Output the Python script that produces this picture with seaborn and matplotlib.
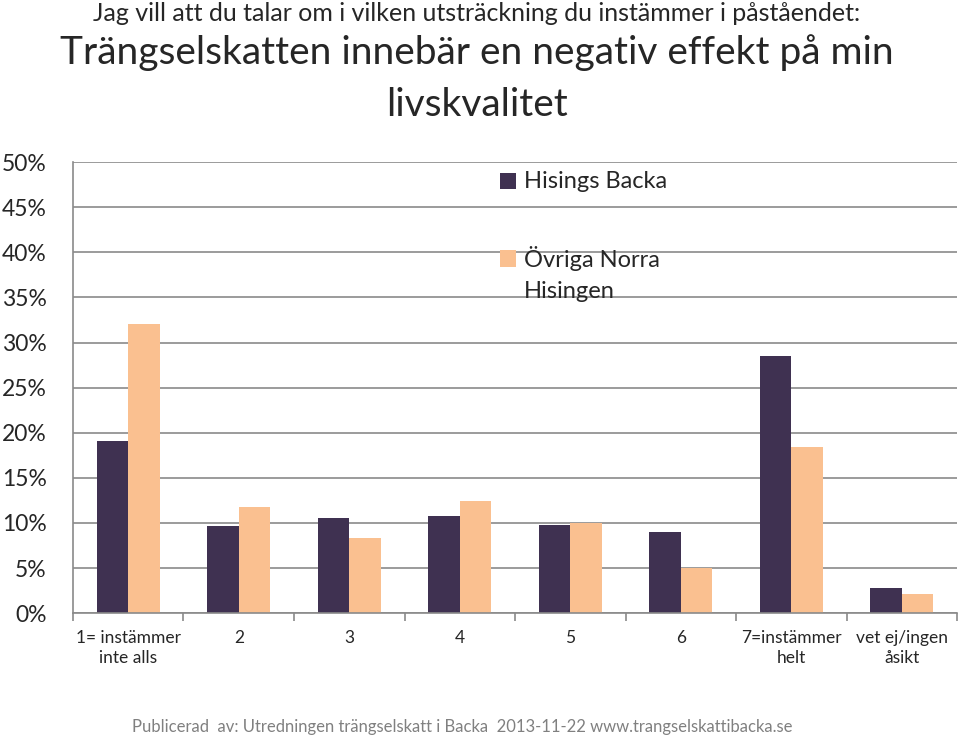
import pandas as pd
import matplotlib.pyplot as plt
import seaborn as sns
from matplotlib.patches import Rectangle
from matplotlib.ticker import MultipleLocator, PercentFormatter

# answer categories (x axis)
categories = ['1= instämmer\ninte alls', '2', '3', '4', '5', '6', '7=instämmer\nhelt', 'vet ej/ingen\nåsikt']
series_names = ['Hisings Backa', 'Övriga Norra\nHisingen']
# share of answers in percent
hisings_backa = [19.1, 9.7, 10.6, 10.8, 9.8, 9.0, 28.5, 2.8]
ovriga_norra = [32.1, 11.8, 8.3, 12.4, 10.0, 5.0, 18.4, 2.1]
colors = ['#3f3151', '#fac090']

df = pd.DataFrame({
    'kategori': categories * 2,
    'serie': [series_names[0]] * len(categories) + [series_names[1]] * len(categories),
    'andel': hisings_backa + ovriga_norra,
})

sns.set_style('white')
plt.rcParams['font.family'] = ['Lato', 'DejaVu Sans']

fig = plt.figure(figsize=(9.6, 7.37), dpi=100)
ax = fig.add_axes([0.076, 0.168, 0.921, 0.612])

sns.barplot(data=df, x='kategori', y='andel', hue='serie', palette=colors,
            width=0.57, gap=0, saturation=1, legend=False, linewidth=0, ax=ax)

ax.set_ylim(0, 50)
ax.set_xlim(-0.5, len(categories) - 0.5)
ax.yaxis.set_major_locator(MultipleLocator(5))
ax.yaxis.set_major_formatter(PercentFormatter(decimals=0))
ax.yaxis.grid(True, color='#8a8a8a', linewidth=1.2)
ax.set_axisbelow(True)
ax.set_xlabel('')
ax.set_ylabel('')

for side in ['top', 'right']:
    ax.spines[side].set_visible(False)
for side in ['left', 'bottom']:
    ax.spines[side].set_color('#8a8a8a')
    ax.spines[side].set_linewidth(1.2)

# ticks on category boundaries, labels centred
ax.set_xticks(range(len(categories)))
ax.set_xticklabels(categories, fontsize=12.5, linespacing=1.35)
ax.tick_params(axis='x', which='major', length=0, pad=12)
ax.set_xticks([i - 0.5 for i in range(len(categories) + 1)], minor=True)
ax.tick_params(axis='x', which='minor', length=6, color='#8a8a8a', width=1.2, direction='out')
ax.tick_params(axis='y', length=7, color='#8a8a8a', width=1.2, direction='out', labelsize=16.5, pad=12)
ax.tick_params(axis='x', bottom=True, which='both')

# legend drawn by hand: the square sits beside the first line of each label
legend_rows = [0.958, 0.787]
for color, name, ytop in zip(colors, series_names, legend_rows):
    ax.add_patch(Rectangle((0.483, ytop - 0.0185), 0.018, 0.036, transform=ax.transAxes,
                           facecolor=color, edgecolor='none', clip_on=False))
    for k, line in enumerate(name.split('\n')):
        ax.text(0.510, ytop - k * 0.073, line, transform=ax.transAxes,
                ha='left', va='center', fontsize=17)

fig.text(0.497, 0.982, 'Jag vill att du talar om i vilken utsträckning du instämmer i påståendet:',
         ha='center', va='center', fontsize=18)
fig.text(0.497, 0.928, 'Trängselskatten innebär en negativ effekt på min',
         ha='center', va='center', fontsize=28)
fig.text(0.497, 0.857, 'livskvalitet', ha='center', va='center', fontsize=28)
fig.text(0.482, 0.013, 'Publicerad  av: Utredningen trängselskatt i Backa  2013-11-22 www.trangselskattibacka.se',
         ha='center', va='center', fontsize=12, color='#808080')

fig.savefig('out.png', dpi=100)
